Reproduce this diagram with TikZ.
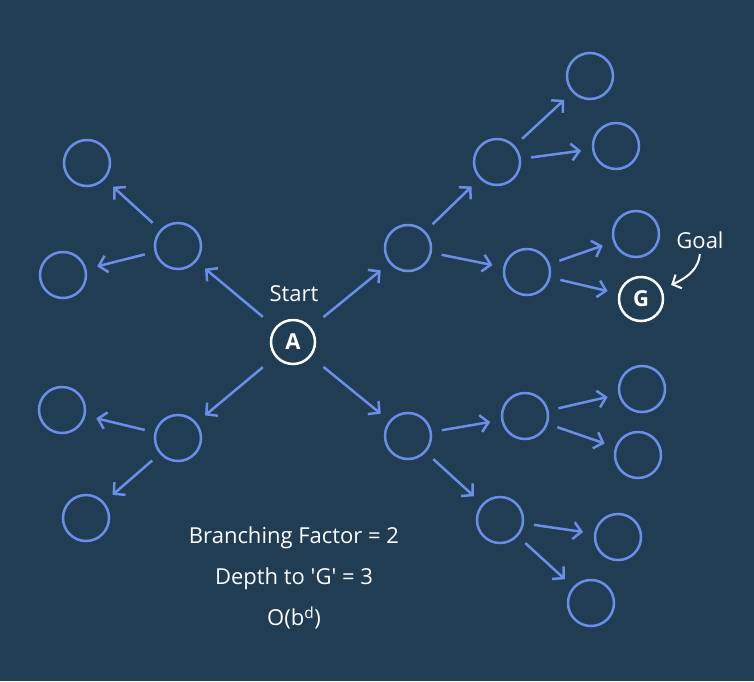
\documentclass[tikz,border=0pt]{standalone}
\usepackage{fontspec}
\setmainfont{Open Sans}
\usetikzlibrary{arrows.meta}

\definecolor{bgblue}{HTML}{203D54}
\definecolor{nodeblue}{HTML}{6B8FE8}

\begin{document}
\begin{tikzpicture}[x=1pt,y=-1pt]
\tikzstyle{every node}=[font=\fontsize{22}{26}\selectfont,text=white];
\tikzstyle{state}=[draw=nodeblue,line width=2.5pt,shape=circle,minimum size=46pt,inner sep=0pt];
\tikzstyle{endpoint}=[draw=white,line width=2.5pt,shape=circle,minimum size=44pt,inner sep=0pt,font=\fontsize{22}{26}\selectfont\bfseries];
\tikzstyle{link}=[draw=nodeblue,line width=2.5pt,-{Straight Barb[length=8pt,width=17pt,line width=2.5pt]},shorten <=10pt,shorten >=11pt];
\fill[bgblue] (0,0) rectangle (754,681);
\useasboundingbox (0,0) rectangle (754,681);
% start and goal
\node[endpoint] (a) at (293,342) {A};
\node (start) at (294,294) {Start};
\node[endpoint] (g) at (641,299) {G};
\node (goal) at (700,240) {Goal};
% left side
\node[state] (l1) at (178,246) {};
\node[state] (l11) at (87,163) {};
\node[state] (l12) at (63,275) {};
\node[state] (l2) at (178,438) {};
\node[state] (l21) at (62,410) {};
\node[state] (l22) at (86,518) {};
% right side
\node[state] (r1) at (408,248) {};
\node[state] (r11) at (497,162) {};
\node[state] (r111) at (590,76) {};
\node[state] (r112) at (616,146) {};
\node[state] (r12) at (527,272) {};
\node[state] (r121) at (636,234) {};
\node[state] (r2) at (408,436) {};
\node[state] (r21) at (525,416) {};
\node[state] (r211) at (642,389) {};
\node[state] (r212) at (638,455) {};
\node[state] (r22) at (500,520) {};
\node[state] (r221) at (618,537) {};
\node[state] (r222) at (591,603) {};
% edges
\foreach \from/\to in {a/l1,a/l2,a/r1,a/r2}
  \draw[link,shorten <=16pt] (\from) -- (\to);
\foreach \from/\to in {l1/l11,l1/l12,l2/l21,l2/l22,r1/r11,r1/r12,r11/r111,r11/r112,
  r12/r121,r12/g,r2/r21,r2/r22,r21/r211,r21/r212,r22/r221,r22/r222}
  \draw[link] (\from) -- (\to);
\draw[white,line width=2pt,-{Straight Barb[length=7pt,width=15pt,line width=2pt]},shorten <=2pt,shorten >=10pt]
  (goal.south) to[out=-95,in=25] (g);
% text
\node (bf) at (294,538) {Branching Factor = 2};
\node (depth) at (294,579) {Depth to \textquotesingle G\textquotesingle{} = 3};
\node (cost) at (294,618) {O(b\textsuperscript{d})};
\end{tikzpicture}
\end{document}
